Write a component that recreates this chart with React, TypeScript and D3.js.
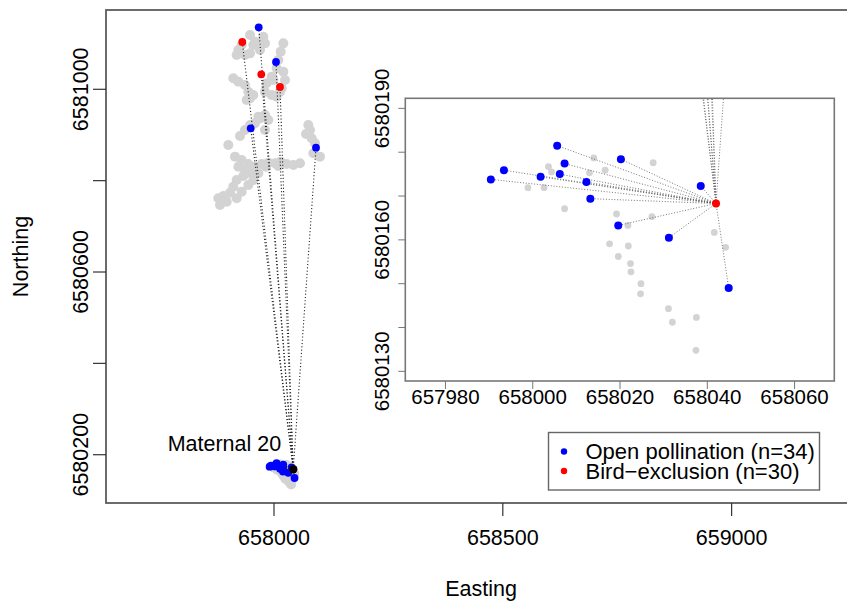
import * as d3 from 'd3';

const W = 847;
const H = 603;

// maternal plant 20
const motherE = 658042;
const motherN = 6580168.3;

// grey: all seedlings sampled, close to the mother (seen in the inset)
const nearGrayE = [658014.0, 658003.6, 658004.3, 658013.0, 658016.6, 658027.6, 657998.9, 658002.6, 658007.3, 658019.2, 658021.8, 658027.3, 658041.6, 658044.2, 658017.6, 658021.9, 658019.6, 658022.4, 658022.5, 658024.8, 658024.7, 658031.1, 658032.0, 658037.5, 658037.4];
const nearGrayN = [6580178.7, 6580176.7, 6580175.5, 6580175.3, 6580175.9, 6580177.6, 6580171.9, 6580171.9, 6580167.1, 6580165.9, 6580163.3, 6580165.3, 6580161.7, 6580158.3, 6580159.1, 6580158.6, 6580156.2, 6580154.6, 6580152.7, 6580150.0, 6580147.7, 6580144.3, 6580141.2, 6580142.3, 6580134.8];

// grey: seedlings in the northern patch
const farGrayE = [657947.6, 657976.7, 657980.3, 657969.4, 657947.6, 657922.1, 657918.4, 657936.6, 657954.8, 658020.4, 658014.6, 658009.5, 658005.8, 658020.4, 658024.0, 658016.8, 657994.9, 657984.0, 657980.3, 657994.9, 658005.8, 657911.1, 657922.1, 657936.6, 657943.9, 657947.6, 657954.8, 657940.3, 657965.8, 657980.3, 657987.6, 657958.5, 657936.6, 657925.7, 658075.0, 658070.0, 658082.3, 658089.6, 658086.0, 658100.5, 657900.2, 657914.8, 657929.4, 657943.9, 657958.5, 657947.6, 657933.0, 657918.4, 657911.1, 657903.9, 657889.3, 657896.6, 657918.4, 657929.4, 657943.9, 657954.8, 657973.1, 657987.6, 658002.2, 658014.6, 658009.5, 657982.5, 657965.8, 658042.3, 658056.8, 657878.4, 657882.0,
  657958.5, 657929.4, 657998.5, 658013.1, 657969.4, 657947.6, 657980.3, 657922.1, 657936.6, 658027.7, 658078.7];
const farGrayN = [6581118.9, 6581115.2, 6581100.6, 6581086.0, 6581078.7, 6581086.0, 6581075.1, 6581075.1, 6581097.0, 6581100.6, 6581082.4, 6581064.1, 6581045.9, 6581038.6, 6581020.4, 6581002.1, 6581027.7, 6581013.1, 6580994.8, 6580987.5, 6580983.9, 6581024.0, 6581016.7, 6581009.4, 6580994.8, 6580980.2, 6580987.5, 6580976.6, 6580940.1, 6580943.7, 6580932.8, 6580925.5, 6580910.9, 6580897.8, 6580921.9, 6580902.2, 6580892.7, 6580881.7, 6580859.8, 6580852.6, 6580878.1, 6580852.6, 6580845.2, 6580836.5, 6580830.6, 6580817.5, 6580810.2, 6580801.4, 6580786.8, 6580773.7, 6580766.4, 6580754.0, 6580761.3, 6580775.9, 6580790.5, 6580801.4, 6580836.5, 6580839.4, 6580838.0, 6580841.6, 6580832.1, 6580830.6, 6580816.1, 6580834.3, 6580838.0, 6580761.3, 6580746.7,
  6581104.3, 6581097.0, 6581020.4, 6580994.8, 6580936.4, 6580921.9, 6580910.9, 6580830.6, 6580823.3, 6580836.5, 6580910.9];

// open pollination seeds (blue)
const openE = [658005.6, 658020.2, 658007.3, 657993.4, 657990.4, 658001.8, 658006.2, 658012.3, 658013.2, 658038.5, 658019.6, 658031.2, 658044.9, 657966.6, 658004.4, 657949.1, 658091.8];
const openN = [6580181.5, 6580178.4, 6580177.4, 6580175.9, 6580173.8, 6580174.4, 6580175.0, 6580173.2, 6580169.4, 6580172.3, 6580163.3, 6580160.5, 6580149.0, 6581135.7, 6581059.8, 6580914.6, 6580872.2];

// bird-exclusion seeds (red)
const birdE = [658042.0, 657930.7, 657972.2, 658013.1];
const birdN = [6580168.3, 6581103.5, 6581032.8, 6581005.0];

const mainXTicks = [658000, 658500, 659000];
const mainYTicks = [6580200, 6580400, 6580600, 6580800, 6581000];
const mainYLabels = [6580200, 6580600, 6581000];
const insetXTicks = [657980, 658000, 658020, 658040, 658060];
const insetYTicks = [6580130, 6580140, 6580150, 6580160, 6580170, 6580180, 6580190];
const insetYLabels = [6580130, 6580160, 6580190];

const legendItems = [
  { label: 'Open pollination (n=34)', color: '#0000ff' },
  { label: 'Bird\u2212exclusion (n=30)', color: '#ff0000' },
];

const FONT = '"Liberation Sans", Arial, sans-serif';

export default function App() {
  // main panel
  const box = { left: 106, top: 10, right: 856, bottom: 503 };
  const x = d3.scaleLinear().domain([657632.9, 659271.8]).range([box.left, box.right]);
  const y = d3.scaleLinear().domain([6580094.3, 6581173.6]).range([box.bottom, box.top]);

  // inset panel
  const ib = { left: 405.3, top: 98.3, right: 834.3, bottom: 381 };
  const ix = d3.scaleLinear().domain([657970.8, 658069.1]).range([ib.left, ib.right]);
  const iy = d3.scaleLinear().domain([6580127.8, 6580192.3]).range([ib.bottom, ib.top]);

  const gray = [
    ...farGrayE.map((e, i) => [e, farGrayN[i]]),
    ...nearGrayE.map((e, i) => [e, nearGrayN[i]]),
  ];
  const nearGray = nearGrayE.map((e, i) => [e, nearGrayN[i]]);
  const open = openE.map((e, i) => [e, openN[i]]);
  const bird = birdE.map((e, i) => [e, birdN[i]]);
  const seeds = [...open, ...bird];

  return (
    <svg width={W} height={H} style={{ position: 'absolute', left: 0, top: 0, fontFamily: FONT }}>
      <defs>
        <clipPath id="mainClip">
          <rect x={box.left} y={box.top} width={box.right - box.left} height={box.bottom - box.top} />
        </clipPath>
        <clipPath id="insetClip">
          <rect x={ib.left} y={ib.top} width={ib.right - ib.left} height={ib.bottom - ib.top} />
        </clipPath>
      </defs>
      <rect width={W} height={H} fill="#fff" />

      {/* main map */}
      <g clipPath="url(#mainClip)">
        {gray.map((d, i) => (
          <circle key={'g' + i} cx={x(d[0])} cy={y(d[1])} r={5} fill="#d3d3d3" />
        ))}
        {seeds.map((d, i) => (
          <line key={'l' + i} x1={x(motherE)} y1={y(motherN)} x2={x(d[0])} y2={y(d[1])}
            stroke="#222" strokeWidth={1.1} strokeDasharray="1.1,2.2" />
        ))}
        {open.map((d, i) => (
          <circle key={'o' + i} cx={x(d[0])} cy={y(d[1])} r={3.9} fill="#0000ff" />
        ))}
        {bird.map((d, i) => (
          <circle key={'b' + i} cx={x(d[0])} cy={y(d[1])} r={3.9} fill="#ff0000" />
        ))}
        <circle cx={x(motherE)} cy={y(motherN)} r={4.2} fill="#000" />
      </g>
      <text x={x(motherE) - 12} y={y(motherN) - 18} fontSize={21.5} textAnchor="end">Maternal 20</text>

      <rect x={box.left} y={box.top} width={box.right - box.left} height={box.bottom - box.top}
        fill="none" stroke="#5c5c5c" strokeWidth={1.8} />

      {/* main axes */}
      {mainXTicks.map(t => (
        <g key={'mx' + t}>
          <line x1={x(t)} x2={x(t)} y1={box.bottom} y2={box.bottom + 13} stroke="#333" strokeWidth={1.2} />
          <text x={x(t)} y={545} fontSize={21.5} textAnchor="middle">{t}</text>
        </g>
      ))}
      {mainYTicks.map(t => (
        <line key={'my' + t} x1={box.left - 13} x2={box.left} y1={y(t)} y2={y(t)} stroke="#333" strokeWidth={1.2} />
      ))}
      {mainYLabels.map(t => (
        <text key={'myl' + t} transform={`translate(88,${y(t)}) rotate(-90)`} fontSize={21.5} textAnchor="middle">{t}</text>
      ))}
      <text x={481} y={596} fontSize={21.5} textAnchor="middle">Easting</text>
      <text transform={`translate(28,${(box.top + box.bottom) / 2}) rotate(-90)`} fontSize={21.5} textAnchor="middle">Northing</text>

      {/* inset */}
      <rect x={ib.left} y={ib.top} width={ib.right - ib.left} height={ib.bottom - ib.top} fill="#fff" />
      <g clipPath="url(#insetClip)">
        {nearGray.map((d, i) => (
          <circle key={'ig' + i} cx={ix(d[0])} cy={iy(d[1])} r={3.4} fill="#d3d3d3" />
        ))}
        {seeds.map((d, i) => (
          <line key={'il' + i} x1={ix(motherE)} y1={iy(motherN)} x2={ix(d[0])} y2={iy(d[1])}
            stroke="#666" strokeWidth={0.9} strokeDasharray="1,1.8" />
        ))}
        {open.map((d, i) => (
          <circle key={'io' + i} cx={ix(d[0])} cy={iy(d[1])} r={4} fill="#0000ff" />
        ))}
        {bird.map((d, i) => (
          <circle key={'ib' + i} cx={ix(d[0])} cy={iy(d[1])} r={4} fill="#ff0000" />
        ))}
      </g>
      <rect x={ib.left} y={ib.top} width={ib.right - ib.left} height={ib.bottom - ib.top}
        fill="none" stroke="#777" strokeWidth={1.6} />
      {insetXTicks.map(t => (
        <g key={'ix' + t}>
          <line x1={ix(t)} x2={ix(t)} y1={ib.bottom} y2={ib.bottom + 8} stroke="#777" strokeWidth={1} />
          <text x={ix(t)} y={404} fontSize={20.5} textAnchor="middle">{t}</text>
        </g>
      ))}
      {insetYTicks.map(t => (
        <line key={'iy' + t} x1={ib.left - 7} x2={ib.left} y1={iy(t)} y2={iy(t)} stroke="#777" strokeWidth={1} />
      ))}
      {insetYLabels.map(t => (
        <text key={'iyl' + t} transform={`translate(389,${iy(t)}) rotate(-90)`} fontSize={20.5} textAnchor="middle">{t}</text>
      ))}

      {/* legend */}
      <rect x={548.5} y={432.5} width={271} height={57.5} fill="#fff" stroke="#666" strokeWidth={1.4} />
      {legendItems.map((it, i) => (
        <g key={it.label}>
          <circle cx={564} cy={451.5 + i * 19.5} r={3.2} fill={it.color} />
          <text x={585.5} y={459 + i * 19.5} fontSize={22}>{it.label}</text>
        </g>
      ))}
    </svg>
  );
}
